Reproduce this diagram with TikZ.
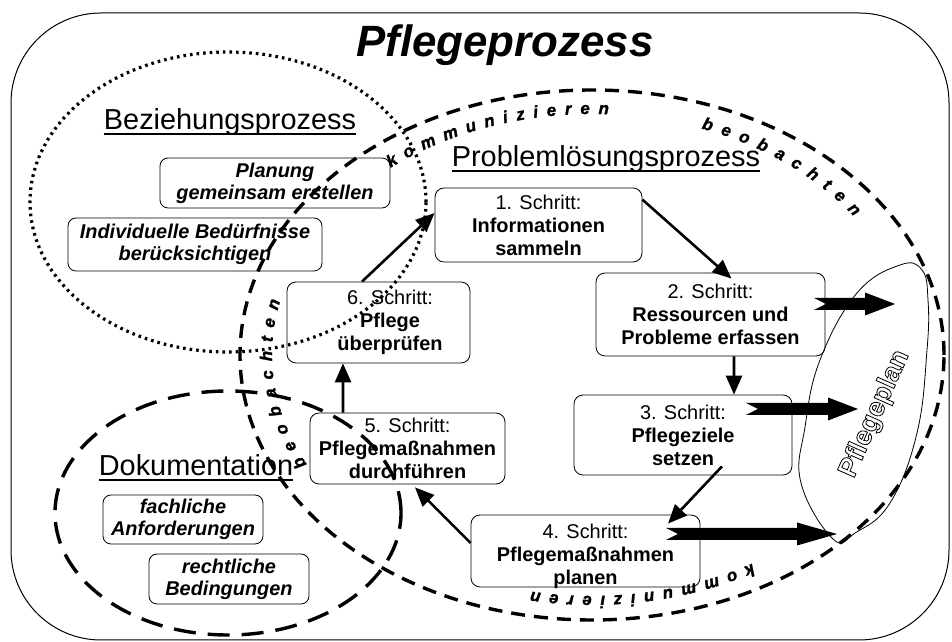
\documentclass[tikz,border=0pt]{standalone}
\usepackage{fontspec}
\setmainfont{Liberation Sans}
\newfontfamily\pplanfont[FakeBold=3]{Liberation Sans Bold}
\newfontfamily\curvefam[FakeBold=1.5]{Liberation Sans Bold Italic}
\usetikzlibrary{arrows.meta,decorations.text}
\newcommand\curvefont{\fontsize{17}{17}\curvefam}
\newcommand\blkarrow[3]{%
  \fill ([yshift=6bp]#1) -- ([xshift=-#3,yshift=6bp]#2) -- ([xshift=-#3,yshift=11.5bp]#2) -- (#2)
    -- ([xshift=-#3,yshift=-11.5bp]#2) -- ([xshift=-#3,yshift=-6bp]#2) -- ([yshift=-6bp]#1)
    -- ([xshift=12bp]#1) -- cycle;}
\begin{document}
\begin{tikzpicture}[x=1bp,y=1bp,
  stepbox/.style={draw, line width=0.8bp, rounded corners=9bp, align=center, inner sep=1bp,
    font=\fontsize{20}{23}\selectfont},
  notebox/.style={draw, line width=0.8bp, rounded corners=8bp, align=center, inner sep=1bp,
    font=\fontsize{20}{22}\selectfont\bfseries\itshape},
  heading/.style={inner sep=0pt, anchor=base, font=\fontsize{29}{32}\selectfont},
  flow/.style={line width=2.6bp, -{Triangle[length=19bp,width=16bp]}},
  dotring/.style={line width=3.2bp, dash pattern=on 2.6bp off 4bp},
  dashring/.style={line width=3.4bp, dash pattern=on 14bp off 9bp},
  docring/.style={line width=3.4bp, dash pattern=on 22bp off 12bp},
  uline/.style={line width=1.3bp}]
\useasboundingbox (0,0) rectangle (952,642);
\fill[white] (0,0) rectangle (952,642);
% outer frame
\draw[line width=1bp, rounded corners=90bp] (11,2) rectangle (949,629);
% title
\node[inner sep=0pt, anchor=base, font=\fontsize{44}{48}\selectfont\bfseries\itshape] (title) at (505,585) {Pflegeprozess};
% headings
\node[heading] (hbez) at (230,512) {Beziehungsprozess};
\draw[uline] ([yshift=-4bp]hbez.base west) -- ([yshift=-4bp]hbez.base east);
\node[heading] (hprob) at (606,475) {Problemlösungsprozess};
\draw[uline] ([yshift=-4bp]hprob.base west) -- ([yshift=-4bp]hprob.base east);
\node[heading] (hdok) at (196,166) {Dokumentation};
\draw[uline] ([yshift=-4bp]hdok.base west) -- ([yshift=-4bp]hdok.base east);
% note boxes
\node[notebox, minimum width=230bp, minimum height=50bp] (plan) at (275,459) {Planung\\gemeinsam erstellen};
\node[notebox, minimum width=254bp, minimum height=53bp] (indiv) at (195,397.5) {Individuelle Bedürfnisse\\berücksichtigen};
\node[notebox, minimum width=160bp, minimum height=49bp] (fach) at (183,122.5) {fachliche\\Anforderungen};
\node[notebox, minimum width=160bp, minimum height=50bp] (recht) at (229,63) {rechtliche\\Bedingungen};
% step boxes
\node[stepbox, minimum width=207bp, minimum height=74bp] (b1) at (538.5,417) {1. Schritt:\\\textbf{Informationen}\\\textbf{sammeln}};
\node[stepbox, minimum width=229bp, minimum height=83bp] (b2) at (710.5,327.5) {2. Schritt:\\\textbf{Ressourcen und}\\\textbf{Probleme erfassen}};
\node[stepbox, minimum width=218bp, minimum height=80bp] (b3) at (683,207) {3. Schritt:\\\textbf{Pflegeziele}\\\textbf{setzen}};
\node[stepbox, minimum width=229bp, minimum height=72bp] (b4) at (585.5,91) {};
\node[align=center, inner sep=0pt, font=\fontsize{20}{23}\selectfont] (b4t) at (585.5,86) {4. Schritt:\\\textbf{Pflegemaßnahmen}\\\textbf{planen}};
\node[stepbox, minimum width=195bp, minimum height=71bp] (b5) at (407.5,193.5) {5. Schritt:\\\textbf{Pflegemaßnahmen}\\\textbf{durchführen}};
\node[stepbox, minimum width=183bp, minimum height=81bp] (b6) at (378.5,319.5) {};
\node[align=center, inner sep=0pt, font=\fontsize{20}{23}\selectfont] (b6t) at (390,319.5) {6. Schritt:\\\textbf{Pflege}\\\textbf{überprüfen}};
% Pflegeplan shape and text
\draw[line width=0.8bp] plot[smooth cycle, tension=0.7] coordinates {(833,103) (801,159) (805,215) (820,282) (857,349) (900,377) (922,372) (928,342) (927,292) (917,209) (890,139) (855,109)};
\node[rotate=66, inner sep=0pt, font=\fontsize{27}{27}\pplanfont] (pplan) at (875,228) {\textcolor{white}{\special{pdf:literal direct 0 G}Pflegeplan}};
% flow arrows
\draw[flow] ([yshift=-12bp]b1.north east) -- ([xshift=21bp,yshift=-6bp]b2.north);
\draw[flow] ([xshift=23.5bp]b2.south) -- ([xshift=51bp]b3.north);
\draw[flow] ([xshift=39bp,yshift=9bp]b3.south) -- ([xshift=82.5bp,yshift=-9bp]b4.north);
\draw[flow] ([yshift=8bp]b4.west) -- ([xshift=7.5bp,yshift=-3bp]b5.south);
\draw[flow] ([xshift=-64.5bp]b5.north) -- ([xshift=-35.5bp]b6.south);
\draw[flow] ([xshift=-16.5bp]b6.north) -- ([yshift=12bp]b1.west);
% block arrows to Pflegeplan
\coordinate (t2) at (814,338); \coordinate (p2) at (895,338);
\coordinate (t3) at (746,233); \coordinate (p3) at (858,233);
\coordinate (t4) at (666,108); \coordinate (p4) at (837,108);
\blkarrow{t2}{p2}{30bp}
\blkarrow{t3}{p3}{30bp}
\blkarrow{t4}{p4}{40bp}
% rings
\draw[dotring] (228,440) ellipse [x radius=198, y radius=150];
\draw[dashring] (592,287) ellipse [x radius=352, y radius=265];
\draw[docring] (228,129) ellipse [x radius=173, y radius=122];
% curved labels
\path[decorate, decoration={text along path, text={|\curvefont|kommunizieren}, text align=fit to path}]
  (390.6,474.3) arc[start angle=129, end angle=87, x radius=320, y radius=241];
\path[decorate, decoration={text along path, text={|\curvefont|beobachten}, text align=fit to path}]
  (701.4,513.5) arc[start angle=70, end angle=35, x radius=320, y radius=241];
\path[decorate, decoration={text along path, text={|\curvefont|beobachten}, text align=fit to path}]
  (306.9,177.6) arc[start angle=207, end angle=167, x radius=320, y radius=241];
\path[decorate, decoration={text along path, text={|\curvefont|kommunizieren}, text align=fit to path}]
  (752,78.3) arc[start angle=-60, end angle=-101, x radius=320, y radius=241];
\end{tikzpicture}
\end{document}
